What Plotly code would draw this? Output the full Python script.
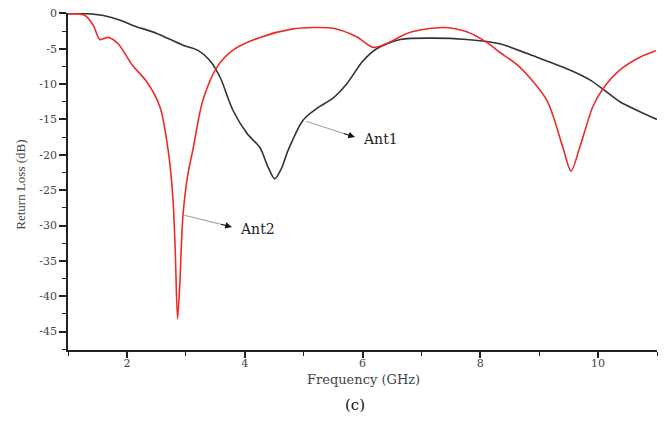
import plotly.graph_objects as go

# Ant1 (black)
ant1_f = [1.0, 1.3, 1.6, 1.9, 2.1, 2.5, 2.95, 3.2, 3.4, 3.58, 3.8, 4.04, 4.26, 4.4, 4.51, 4.62,
          4.74, 4.99, 5.23, 5.5, 5.73, 6.0, 6.24, 6.64, 7.2, 7.77, 8.33, 8.96, 9.52, 9.86, 10.08,
          10.37, 10.71, 11.0]
ant1_db = [-0.05, -0.05, -0.3, -1.0, -1.7, -2.8, -4.5, -5.2, -6.6, -9.0, -13.7, -17.0, -19.0,
           -21.8, -23.4, -22.0, -19.3, -15.1, -13.4, -12.0, -10.0, -6.8, -5.0, -3.7, -3.5, -3.7,
           -4.3, -6.2, -8.0, -9.4, -10.7, -12.5, -13.9, -15.0]

# Ant2 (red)
ant2_f = [1.0, 1.2, 1.29, 1.43, 1.54, 1.68, 1.85, 2.09, 2.34, 2.56, 2.7, 2.78, 2.82, 2.86, 2.9,
          2.95, 3.03, 3.12, 3.29, 3.53, 3.8, 4.26, 4.82, 5.16, 5.5, 5.9, 6.18, 6.4, 6.8, 7.37,
          7.77, 8.11, 8.33, 8.67, 9.13, 9.4, 9.54, 9.69, 9.91, 10.08, 10.37, 10.71, 10.98]
ant2_db = [-0.05, -0.1, -0.3, -1.7, -3.7, -3.4, -4.3, -7.3, -9.7, -13.2, -19.3, -26.0, -33.4,
           -43.2, -38.0, -28.8, -23.0, -19.3, -12.3, -7.6, -5.2, -3.4, -2.2, -2.0, -2.1, -3.3,
           -4.8, -4.3, -2.7, -2.0, -2.6, -4.1, -5.5, -7.6, -12.3, -18.9, -22.3, -18.9, -13.2,
           -10.7, -8.0, -6.2, -5.3]

x_ticks = [2, 4, 6, 8, 10]
y_ticks = [0, -5, -10, -15, -20, -25, -30, -35, -40, -45]
y_tick_text = ["0", "-5", "-10", "-15", "-20", "-25", "-30", "-35", "-40", "-45"]

# annotation anchors: (curve point, arrow tip, label)
labels = [
    {"text": "Ant1", "from": (5.02, -15.2), "to": (5.87, -17.5), "at": (5.98, -17.8)},
    {"text": "Ant2", "from": (2.95, -28.5), "to": (3.78, -30.2), "at": (3.88, -30.5)},
]

SERIF = "Liberation Serif"
WIDE = "DejaVu Serif"

fig = go.Figure()
fig.add_trace(go.Scatter(x=ant1_f, y=ant1_db, mode="lines", name="Ant1",
                         line=dict(color="#333333", width=1.6, shape="spline", smoothing=0.8)))
fig.add_trace(go.Scatter(x=ant2_f, y=ant2_db, mode="lines", name="Ant2",
                         line=dict(color="#ee2a2a", width=1.6, shape="spline", smoothing=0.8)))

for lab in labels:
    (x0, y0), (x1, y1), (xt, yt) = lab["from"], lab["to"], lab["at"]
    # grey shaft
    fig.add_annotation(x=x1, y=y1, ax=x0, ay=y0, xref="x", yref="y", axref="x", ayref="y",
                       text="", showarrow=True, arrowhead=0, arrowwidth=1, arrowcolor="#999999")
    # black head
    fig.add_annotation(x=x1, y=y1, ax=x1 - (x1 - x0) * 0.25, ay=y1 - (y1 - y0) * 0.25,
                       xref="x", yref="y", axref="x", ayref="y",
                       text="", showarrow=True, arrowhead=2, arrowsize=1.3, arrowwidth=1,
                       arrowcolor="#111111")
    fig.add_annotation(x=xt, y=yt, xref="x", yref="y", text=lab["text"], showarrow=False,
                       xanchor="left", yanchor="middle",
                       font=dict(family=WIDE, size=14, color="#222222"))

# axis titles and panel label
fig.add_annotation(x=0.501, y=-0.088, xref="paper", yref="paper", text="Frequency (GHz)",
                   showarrow=False, xanchor="center", yanchor="middle",
                   font=dict(family=WIDE, size=13, color="#444444"))
fig.add_annotation(x=-0.080, y=0.490, xref="paper", yref="paper", text="Return Loss (dB)",
                   showarrow=False, xanchor="center", yanchor="middle", textangle=-90,
                   font=dict(family=SERIF, size=13, color="#444444"))
fig.add_annotation(x=0.487, y=-0.162, xref="paper", yref="paper", text="(c)", showarrow=False,
                   xanchor="center", yanchor="middle",
                   font=dict(family=WIDE, size=15, color="#111111"))

# page body has an 8px margin, so the figure is sized/offset to land the plot area
fig.update_layout(
    width=653, height=409,
    margin=dict(l=60, r=4, t=5, b=67),
    paper_bgcolor="white", plot_bgcolor="white",
    showlegend=False,
    font=dict(family=WIDE, color="#333333"),
)
fig.update_xaxes(range=[1, 11], tickvals=x_ticks, ticks="outside", ticklen=6, tickwidth=1.5,
                 automargin=False, ticklabelstandoff=-4,
                 showline=True, linecolor="#222222", linewidth=1.5, showgrid=False, zeroline=False,
                 minor=dict(dtick=1, tick0=1, ticks="outside", ticklen=4, tickwidth=1.2,
                            tickcolor="#222222"),
                 tickcolor="#222222", tickfont=dict(family=WIDE, size=11, color="#444444"))
fig.update_yaxes(range=[-47.6, 0.05], tickvals=y_ticks, ticktext=y_tick_text, ticks="outside",
                 ticklen=7, tickwidth=1.5, automargin=False, ticklabeloverflow="allow",
                 showline=True, linecolor="#222222", linewidth=1.5, showgrid=False, zeroline=False,
                 minor=dict(dtick=2.5, tick0=0, ticks="outside", ticklen=4, tickwidth=1.2,
                            tickcolor="#222222"),
                 tickcolor="#222222", tickfont=dict(family=WIDE, size=11, color="#444444"))

fig.write_html("out.html")
